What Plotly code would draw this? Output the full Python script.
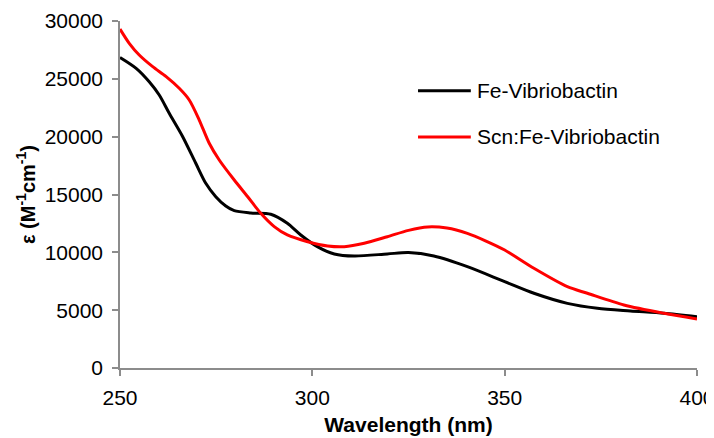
import plotly.graph_objects as go

# Fe-Vibriobactin
wl_fe = [250, 254.2, 257.6, 260.2, 262.8, 266.3, 269.7, 272.3, 274.9, 277.5, 279.7, 284,
         289.2, 293.5, 297, 301.3, 305.7, 310.9, 319.5, 325, 331.6, 340.3, 350, 357.6,
         366.3, 374.1, 382.7, 391.4, 400]
eps_fe = [26850, 25910, 24750, 23600, 22020, 20000, 17700, 15970, 14810, 14000, 13600, 13400,
          13290, 12510, 11500, 10490, 9860, 9680, 9860, 9980, 9680, 8760, 7465, 6460,
          5590, 5160, 4930, 4730, 4440]

# Scn:Fe-Vibriobactin
wl_scn = [250, 252.4, 255, 258.5, 262, 265.4, 268, 270.6, 273.2, 275.8, 279.7, 283.2,
          286.6, 290.1, 293.5, 298.8, 304, 308.3, 313.5, 319.5, 325, 330, 335, 340.3,
          345, 350, 357.6, 366.3, 371.5, 381, 391.4, 400]
eps_scn = [29300, 28070, 27060, 26050, 25190, 24180, 23170, 21440, 19430, 17980, 16250, 14810,
           13370, 12220, 11500, 10920, 10550, 10490, 10780, 11350, 11900, 12200, 12100, 11640,
           11000, 10200, 8620, 7030, 6460, 5450, 4730, 4240]

x_ticks = [250, 300, 350, 400]
y_ticks = [0, 5000, 10000, 15000, 20000, 25000, 30000]
series_names = ["Fe-Vibriobactin", "Scn:Fe-Vibriobactin"]
series_colors = ["black", "#ff0000"]

FONT = "Liberation Sans, Arial, sans-serif"

fig = go.Figure()
fig.add_trace(go.Scatter(x=wl_fe, y=eps_fe, mode="lines", name=series_names[0],
                         line=dict(color=series_colors[0], width=3, shape="spline", smoothing=0.8)))
fig.add_trace(go.Scatter(x=wl_scn, y=eps_scn, mode="lines", name=series_names[1],
                         line=dict(color=series_colors[1], width=3, shape="spline", smoothing=0.8)))

# manual legend (paper coordinates)
legend_y = [0.799, 0.666]
shapes = []
annotations = []
for name, col, ly in zip(series_names, series_colors, legend_y):
    shapes.append(dict(type="line", xref="paper", yref="paper", x0=0.5165, x1=0.608,
                       y0=ly, y1=ly, line=dict(color=col, width=3)))
    annotations.append(dict(xref="paper", yref="paper", x=0.615, y=ly, xanchor="left",
                            yanchor="middle", text=name, showarrow=False,
                            font=dict(family=FONT, size=21, color="black")))

axis_common = dict(showgrid=False, zeroline=False, showline=True, linecolor="#8c8c8c",
                   linewidth=1.5, ticks="outside", ticklen=6, tickcolor="#8c8c8c",
                   tickwidth=1.5, automargin=False, ticklabeloverflow="allow",
                   tickfont=dict(family=FONT, size=21, color="black"))

fig.update_layout(
    width=714, height=438,
    margin=dict(l=112, r=25, t=13, b=78),
    paper_bgcolor="white", plot_bgcolor="white",
    font=dict(family=FONT, color="black"),
    xaxis=dict(range=[250, 400], tickvals=x_ticks, ticktext=[str(v) for v in x_ticks],
               title=dict(text="<b>Wavelength (nm)</b>", font=dict(family=FONT, size=21), standoff=9),
               ticklabelstandoff=4,
               **axis_common),
    yaxis=dict(range=[0, 30000], tickvals=y_ticks, ticktext=[str(v) for v in y_ticks],
               title=dict(text="<b>ε (M<sup>-1</sup>cm<sup>-1</sup>)</b>", font=dict(family=FONT, size=20), standoff=4),
               ticklabelstandoff=5,
               **axis_common),
    shapes=shapes,
    annotations=annotations,
    showlegend=False,
)

fig.write_html("out.html")
